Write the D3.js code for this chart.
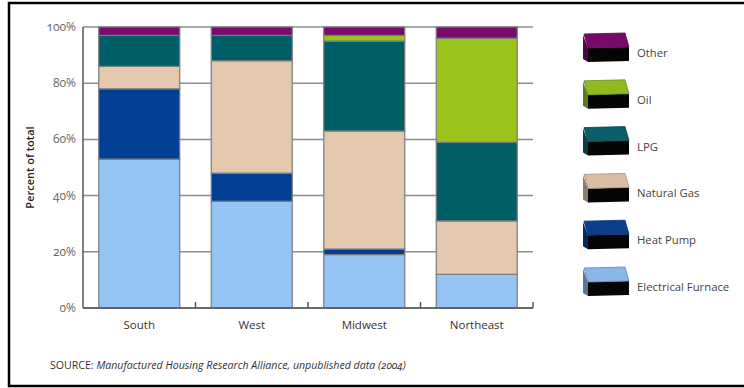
<!DOCTYPE html>
<html>
<head>
<meta charset="utf-8">
<script src="https://cdnjs.cloudflare.com/ajax/libs/d3/7.8.5/d3.min.js"></script>
<style>
  html, body { margin: 0; padding: 0; background: #fff; }
  svg { display: block; font-family: "Open Sans", Lato, sans-serif; }
  .num { font-variant-numeric: oldstyle-nums; font-feature-settings: "onum" 1; }
</style>
</head>
<body>
<svg id="chart" width="744" height="388"></svg>
<script>
// Heating fuel shares of manufactured homes by region (percent of total)
const regions = ["South", "West", "Midwest", "Northeast"];
const fuels = ["Electrical Furnace", "Heat Pump", "Natural Gas", "LPG", "Oil", "Other"];
const electricalFurnace = [53, 38, 19, 12];
const heatPump          = [25, 10, 2, 0];
const naturalGas        = [8, 40, 42, 19];
const lpg               = [11, 9, 32, 28];
const oil               = [0, 0, 2, 37];
const other             = [3, 3, 3, 4];
const yTicks = [0, 20, 40, 60, 80, 100];
const fuelColors = ["#93c4f3", "#003f93", "#e4c8ad", "#005e66", "#99c41c", "#780b6c"];
const legendColors = ["#8ab6e8", "#0a3f8c", "#d8bda3", "#0b5f68", "#8fbb1e", "#750a69"];

const series = [electricalFurnace, heatPump, naturalGas, lpg, oil, other];
const table = regions.map((r, i) => {
  const row = { region: r };
  fuels.forEach((f, k) => { row[f] = series[k][i]; });
  return row;
});

const svg = d3.select("#chart");

// outer frame
svg.append("rect")
  .attr("x", 9).attr("y", 3).attr("width", 760).attr("height", 383)
  .attr("fill", "none").attr("stroke", "#000").attr("stroke-width", 2.5);

const plot = { left: 83, right: 533, top: 27, bottom: 308 };

const x = d3.scaleBand().domain(regions)
  .range([plot.left, plot.right])
  .paddingInner(0.28).paddingOuter(0.14);
const y = d3.scaleLinear().domain([0, 100]).range([plot.bottom, plot.top]);
const color = d3.scaleOrdinal().domain(fuels).range(fuelColors);

// horizontal gridlines (hidden behind the bars)
svg.append("g").selectAll("line").data(yTicks).join("line")
  .attr("x1", plot.left).attr("x2", plot.right)
  .attr("y1", d => y(d)).attr("y2", d => y(d))
  .attr("stroke", "#8c8c8c").attr("stroke-width", 1.5);

// stacked bars
const stacked = d3.stack().keys(fuels)(table);
svg.append("g").selectAll("g").data(stacked).join("g")
  .attr("fill", d => color(d.key))
  .selectAll("rect").data(d => d.filter(s => s[1] - s[0] > 0)).join("rect")
  .attr("x", d => x(d.data.region))
  .attr("width", x.bandwidth())
  .attr("y", d => y(d[1]))
  .attr("height", d => y(d[0]) - y(d[1]))
  .attr("stroke", "#7d7d7d").attr("stroke-width", 1.2);

// axes
svg.append("line")
  .attr("x1", plot.left).attr("x2", plot.left)
  .attr("y1", plot.top).attr("y2", plot.bottom)
  .attr("stroke", "#555").attr("stroke-width", 1.5);
svg.append("line")
  .attr("x1", plot.left).attr("x2", plot.right)
  .attr("y1", plot.bottom).attr("y2", plot.bottom)
  .attr("stroke", "#555").attr("stroke-width", 1.5);
const boundaries = regions.map(r => x(r) + x.bandwidth() + x.step() * x.paddingInner() / 2);
boundaries[boundaries.length - 1] = plot.right;
svg.append("g").selectAll("line").data(boundaries).join("line")
  .attr("x1", d => d).attr("x2", d => d)
  .attr("y1", plot.bottom).attr("y2", plot.bottom - 6)
  .attr("stroke", "#555").attr("stroke-width", 1.5);

// y tick labels
svg.append("g").selectAll("text").data(yTicks).join("text")
  .attr("class", "num")
  .attr("x", 76).attr("y", d => y(d) + 4)
  .attr("text-anchor", "end")
  .attr("font-size", 12).attr("fill", "#666")
  .text(d => d + "%");

// x category labels
svg.append("g").selectAll("text").data(regions).join("text")
  .attr("x", d => x(d) + x.bandwidth() / 2).attr("y", 329)
  .attr("text-anchor", "middle")
  .attr("font-size", 11.5).attr("fill", "#333")
  .text(d => d);

// y axis title
svg.append("text")
  .attr("transform", `translate(34,${(plot.top + plot.bottom) / 2}) rotate(-90)`)
  .attr("text-anchor", "middle")
  .attr("font-size", 11).attr("font-weight", 600).attr("fill", "#222")
  .text("Percent of total");

// legend with small 3D boxes, top to bottom in reverse stack order
const legendKeys = fuels.slice().reverse();
const ly = d3.scalePoint().domain(legendKeys).range([53, 287]);
const legendColor = d3.scaleOrdinal().domain(fuels).range(legendColors);
const item = svg.append("g").selectAll("g").data(legendKeys).join("g")
  .attr("transform", d => `translate(583,${ly(d) - 20})`);
item.append("path") // left side face
  .attr("d", "M0,2 L5,15 L5,29 L0,26 Z")
  .attr("fill", d => d3.color(legendColor(d)).darker(1.2));
item.append("path") // front face
  .attr("d", "M5,15 L46,14 L46,28 L5,29 Z")
  .attr("fill", "#050505");
item.append("path") // top face
  .attr("d", "M1,1 L42,0 L46,14 L5,15 Z")
  .attr("fill", d => legendColor(d))
  .attr("stroke", d => d3.color(legendColor(d)).darker(0.8)).attr("stroke-width", 0.8);
item.append("text")
  .attr("x", 54).attr("y", 24)
  .attr("font-size", 11.3).attr("fill", "#444")
  .text(d => d);

// source note
const src = svg.append("text")
  .attr("x", 50).attr("y", 369)
  .attr("font-size", 10.6).attr("fill", "#333");
src.append("tspan").text("SOURCE: ");
src.append("tspan").attr("font-style", "italic").attr("class", "num")
  .text("Manufactured Housing Research Alliance, unpublished data (2004)");
</script>
</body>
</html>
